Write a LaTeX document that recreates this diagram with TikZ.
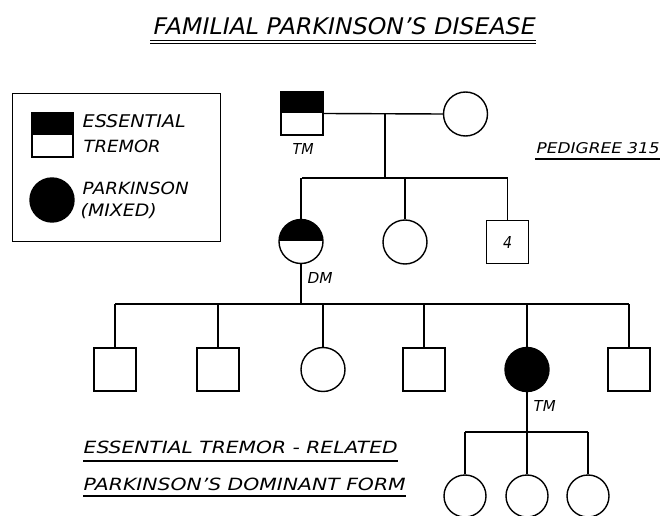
\documentclass[tikz,border=0pt]{standalone}
\usepackage{fontspec}
\setmainfont{DejaVu Sans}
\usetikzlibrary{calc}
% lettering fitted to a given width and cap height
\newcommand\lettering[3]{\resizebox{#1pt}{#2pt}{\itshape #3}}
\begin{document}
\begin{tikzpicture}[x=1pt,y=-1pt,line width=1.4pt,
  male/.style={draw,rectangle,minimum width=42pt,minimum height=43pt,inner sep=0pt},
  female/.style={draw,circle,minimum size=44pt,inner sep=0pt},
  smallfemale/.style={draw,circle,minimum size=42pt,inner sep=0pt},
  affected/.style={fill=black},
  halftop/.style={path picture={\fill[black] (path picture bounding box.north west) rectangle (path picture bounding box.east);}},
  lbl/.style={inner sep=0pt,anchor=base west},
  underl/.style={line width=1.1pt}
]
\useasboundingbox (0,0) rectangle (662,516);

% title
\node[lbl] (title) at (153,35) {\lettering{382}{17}{FAMILIAL PARKINSON'S DISEASE}};
\draw[line width=1.6pt] (150,40.5) -- (536,40.5);
\draw[line width=0.8pt] (150,43.5) -- (536,43.5);

% legend
\node (legend) [draw,anchor=north west,minimum width=208pt,minimum height=148pt,inner sep=0pt] at (12,93) {};
\node (keyET) [male,halftop,minimum width=41pt,minimum height=44pt] at (52.5,135) {};
\node (keyPD) [female,affected] at (52,200) {};
\node[lbl] (keyET1) at (82,128) {\lettering{103}{13}{ESSENTIAL}};
\node[lbl] (keyET2) at (83,153) {\lettering{77}{12.5}{TREMOR}};
\node[lbl] (keyPD1) at (82,195) {\lettering{106}{12.5}{PARKINSON}};
\node[lbl] (keyPD2) at (80,217) {\lettering{76}{13}{(MIXED)}};

% pedigree number
\node[lbl] (pedno) at (536,154) {\lettering{123}{11}{PEDIGREE 315}};
\draw[underl] (535,159) -- (660,159);

% generation I
\node (I1) [male,halftop] at (302,113.5) {};
\node (I2) [female] at (465.5,114) {};
\node[lbl] (I1lab) at (292,155) {\lettering{21}{11}{TM}};

% generation II
\node (II1) [female,halftop] at (301,241.5) {};
\node (II2) [female] at (405,242) {};
\node (II3) [male] at (507.5,242) {\lettering{9}{12}{4}};
\node[lbl] (II1lab) at (307,283) {\lettering{25}{11}{DM}};

% generation III
\node (III1) [male] at (115,369.5) {};
\node (III2) [male] at (218,369.5) {};
\node (III3) [female] at (323,369.5) {};
\node (III4) [male] at (424,369.5) {};
\node (III5) [female,affected] at (527,369.5) {};
\node (III6) [male] at (629,369.5) {};
\node[lbl] (III5lab) at (533,411) {\lettering{22}{11}{TM}};

% generation IV
\node (IV1) [smallfemale] at (465,496) {};
\node (IV2) [smallfemale] at (527,496) {};
\node (IV3) [smallfemale] at (588,496) {};

% caption
\node[lbl] (cap1) at (83,453) {\lettering{314}{12.5}{ESSENTIAL TREMOR - RELATED}};
\draw[underl] (83,461) -- (398,461);
\node[lbl] (cap2) at (83,490) {\lettering{322}{12.5}{PARKINSON'S DOMINANT FORM}};
\draw[underl] (83,496) -- (406,496);

% marriage and sibship lines
\coordinate (m1) at (385,113.5);
\coordinate (s1L) at (302,178);
\coordinate (s1R) at (507.5,178);
\draw (I1.east) -- (I2.west);
\draw (m1) -- (m1 |- s1L);
\draw (s1L) -- (s1R);
\foreach \c in {II1,II2,II3} \draw (\c.north) -- (\c.north |- s1L);

\coordinate (s2L) at (115,304);
\coordinate (s2R) at (629,304);
\draw (II1.south) -- (II1.south |- s2L);
\draw (s2L) -- (s2R);
\foreach \c in {III1,III2,III3,III4,III5,III6} \draw (\c.north) -- (\c.north |- s2L);

\coordinate (s3L) at (465,432);
\coordinate (s3R) at (588,432);
\draw (III5.south) -- (III5.south |- s3L);
\draw (s3L) -- (s3R);
\foreach \c in {IV1,IV2,IV3} \draw (\c.north) -- (\c.north |- s3L);
\end{tikzpicture}
\end{document}
